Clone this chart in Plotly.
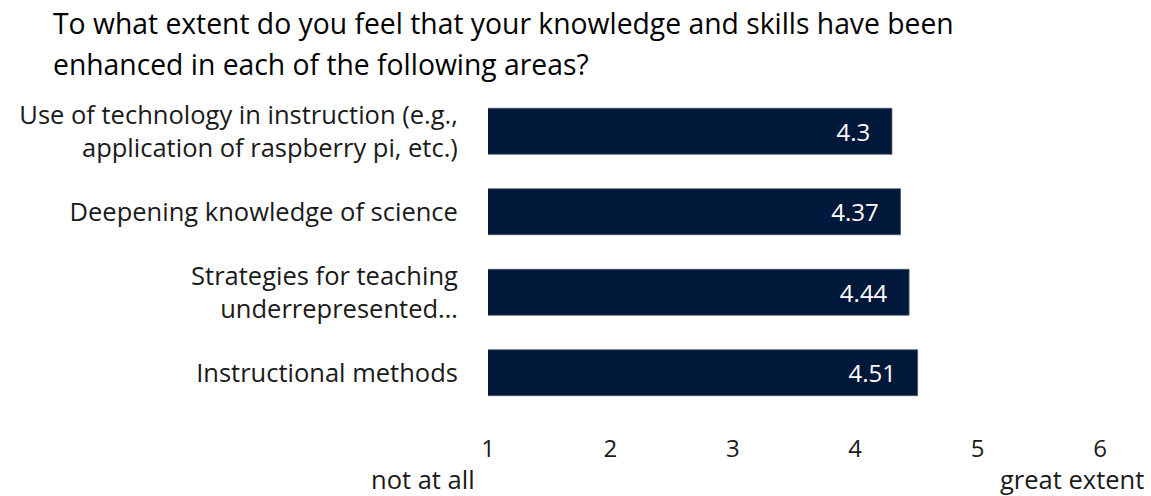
import plotly.graph_objects as go

# ---- data ----
categories = [
    "Use of technology in instruction (e.g.,<br>application of raspberry pi, etc.)",
    "Deepening knowledge of science",
    "Strategies for teaching<br>underrepresented…",
    "Instructional methods",
]
values = [4.3, 4.37, 4.44, 4.51]
tick_vals = [1, 2, 3, 4, 5, 6]
tick_text = ["1", "2", "3", "4", "5", "6"]
scale_low_label = "not at all"
scale_high_label = "great extent"
title_lines = [
    "To what extent do you feel that your knowledge and skills have been",
    "enhanced in each of the following areas?",
]

W, H = 1151, 496
ML, MR, MT, MB = 488, 51, 91, 83
PW, PH = W - ML - MR, H - MT - MB

TEXT_FONT = "'Open Sans', 'Noto Sans', sans-serif"
NUM_FONT = "'Open Sans', 'Noto Sans', sans-serif"
BAR_COLOR = "#02183a"
TEXT_COLOR = "#1a1a1a"
TITLE_SIZE = 28.3
LABEL_SIZE = 25.5


def px_to_paper_x(px):
    return (px - ML) / PW


def px_to_paper_y(py):
    return (H - MB - py) / PH


fig = go.Figure()
fig.add_trace(go.Bar(
    x=values,
    y=categories,
    orientation="h",
    marker=dict(color=BAR_COLOR, line=dict(color="#44546a", width=0.8)),
    text=[f"{v:g}\u00a0\u00a0\u00a0" for v in values],
    textposition="inside",
    insidetextanchor="end",
    textfont=dict(family=NUM_FONT, size=24, color="white"),
    hoverinfo="skip",
))

annotations = []
for line, baseline in zip(title_lines, [33, 74]):
    annotations.append(dict(
        text=line, xref="paper", yref="paper",
        x=px_to_paper_x(52), y=px_to_paper_y(baseline - 0.35 * TITLE_SIZE),
        xanchor="left", yanchor="middle", showarrow=False, borderpad=0,
        font=dict(family=TEXT_FONT, size=TITLE_SIZE, color="#000000"),
    ))
for label, cx in [(scale_low_label, 422.5), (scale_high_label, 1072)]:
    annotations.append(dict(
        text=label, xref="paper", yref="paper",
        x=px_to_paper_x(cx), y=px_to_paper_y(479),
        xanchor="center", yanchor="middle", showarrow=False, borderpad=0,
        font=dict(family=TEXT_FONT, size=LABEL_SIZE, color=TEXT_COLOR),
    ))

fig.update_layout(
    width=W, height=H,
    margin=dict(l=ML, r=MR, t=MT, b=MB, pad=0),
    paper_bgcolor="white", plot_bgcolor="white",
    showlegend=False,
    bargap=0.43,
    hovermode=False,
    xaxis=dict(
        range=[1, 6],
        tickvals=tick_vals, ticktext=tick_text,
        showgrid=False, zeroline=False, showline=False,
        ticks="outside", ticklen=14, tickcolor="rgba(0,0,0,0)",
        tickfont=dict(family=NUM_FONT, size=24, color=TEXT_COLOR),
        fixedrange=True,
    ),
    yaxis=dict(
        autorange="reversed",
        showgrid=False, zeroline=False, showline=False,
        ticks="outside", ticklen=24, tickcolor="rgba(0,0,0,0)",
        tickfont=dict(family=TEXT_FONT, size=LABEL_SIZE, color=TEXT_COLOR),
        fixedrange=True,
    ),
    annotations=annotations,
)

fig.write_html(
    "out.html",
    config={"displayModeBar": False, "staticPlot": True},
    post_script="document.body.style.margin='0';",
)
